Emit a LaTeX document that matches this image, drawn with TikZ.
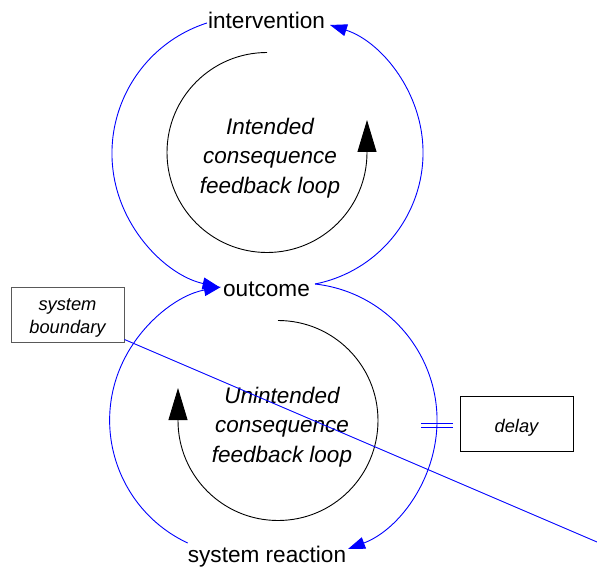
\documentclass[tikz,border=0pt]{standalone}
\usepackage{fontspec}
\setmainfont{Liberation Sans}
\usetikzlibrary{arrows.meta}

\begin{document}
\begin{tikzpicture}[x=1pt,y=-1pt,
  every node/.style={inner sep=0pt},
  varname/.style={font=\fontsize{22.6}{27}\selectfont, anchor=base},
  looplabel/.style={font=\fontsize{22.5}{29.5}\selectfont\itshape, align=center},
  note/.style={draw=black!65, line width=1pt, minimum width=113pt, minimum height=55pt,
    font=\fontsize{18.3}{23}\selectfont\itshape, align=center},
  link/.style={draw={rgb,255:red,0;green,0;blue,255}, line width=0.9pt},
  linkarrow/.style={link, -{Triangle[length=17pt,width=12pt]}},
  loopsym/.style={draw=black, line width=0.9pt, -{Triangle[length=32pt,width=19pt]}},
]
\useasboundingbox (0,0) rectangle (597,567);

% variables
\node[varname] (intervention) at (266.5,29) {intervention};
\node[varname] (outcome) at (266.5,296) {outcome};
\node[varname] (sysreact) at (267,562) {system reaction};

% loop labels
\node[looplabel] (intended) at (270,157.8) {Intended\\consequence\\feedback loop};
\node[looplabel] (unintended) at (282,426.8) {Unintended\\consequence\\feedback loop};

% comment boxes
\node[note] (boundary) at (67.5,314.5) {\rule{0pt}{18pt}system\\boundary};
\node[note, draw=black] (delay) at (516.5,424) {\rule{0pt}{19.9pt}delay};

% causal links (circular arcs)
\draw[linkarrow] ([shift={(-1,-6)}]intervention.base west)
  arc[start angle=252.1, end angle=102.4, radius=137];
\draw[linkarrow] ([shift={(5,-12)}]outcome.base east)
  arc[start angle=78.8, end angle=-72.2, radius=134];
\draw[linkarrow] ([shift={(0,-19)}]sysreact.base west)
  arc[start angle=115.1, end angle=259.7, radius=135.5];
\draw[linkarrow] ([shift={(5,-12)}]outcome.base east)
  arc[start angle=-83.6, end angle=69.4, radius=137.3];

% delay marks on the outcome -> system reaction link
\coordinate (delaymark) at (437,425);
\draw[link] ([shift={(-16,-2)}]delaymark) -- ++(32,0);
\draw[link] ([shift={(-16,2)}]delaymark) -- ++(32,0);

% loop direction symbols
\coordinate (upperloop) at (267,152.5);
\coordinate (lowerloop) at (278,420.5);
\draw[loopsym] ([shift={(0,-100)}]upperloop)
  arc[start angle=270, end angle=0, radius=100] -- ++(0,-32.5);
\draw[loopsym] ([shift={(0,-100)}]lowerloop)
  arc[start angle=-90, end angle=180, radius=100] -- ++(0,-32.5);

% system boundary line
\coordinate (boundaryend) at (597,542);
\draw[link] ([shift={(0,-3)}]boundary.south east) -- (boundaryend);
\end{tikzpicture}
\end{document}
